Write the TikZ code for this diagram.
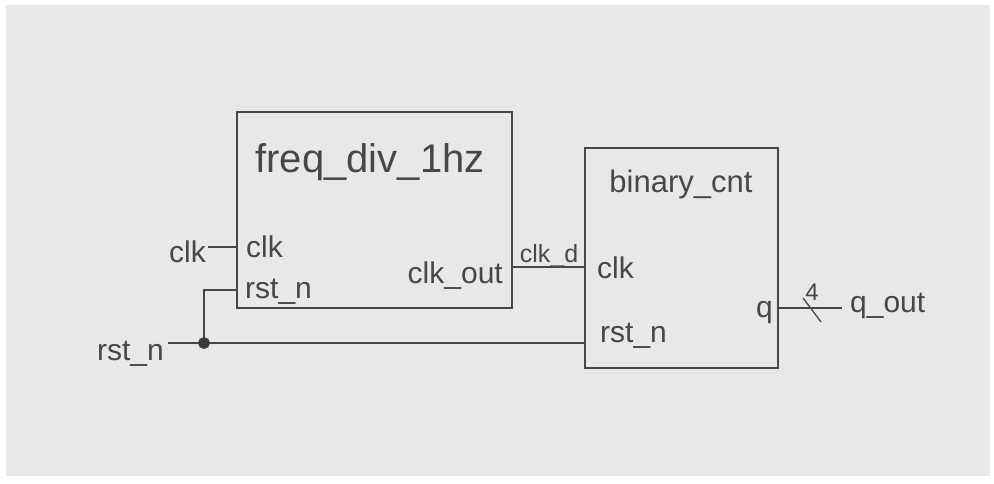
\documentclass[tikz,border=0pt]{standalone}
\usepackage{fontspec}
\setmainfont{Liberation Sans}
\definecolor{ink}{HTML}{474747}
\definecolor{paper}{HTML}{E8E8E6}
\begin{document}
\begin{tikzpicture}[x=1pt,y=-1pt,
  wire/.style={draw=ink, line width=1.6pt},
  box/.style={draw=ink, line width=2pt, inner sep=0pt, fill=none},
  lbl/.style={text=ink, inner sep=0pt, font=\fontsize{30}{32}\selectfont},
  ttl/.style={text=ink, inner sep=0pt, font=\fontsize{40}{42}\selectfont},
  dotj/.style={circle, draw=ink, fill=ink!80!black, line width=1pt, inner sep=0pt, minimum size=11pt}]
% background
\fill[white] (0,0) rectangle (994,484);
\fill[paper] (6,5) rectangle (990,476);
\useasboundingbox (0,0) rectangle (994,484);
% boxes
\node[box, minimum width=275pt, minimum height=196pt] (b1) at (374.5,210) {};
\node[box, minimum width=193pt, minimum height=220pt] (b2) at (681.5,258) {};
% titles
\node[ttl, anchor=base] (t1) at (370,173) {freq\_div\_1hz};
\node[ttl, anchor=base, font=\fontsize{31}{33}\selectfont] (t2) at (681,193) {binary\_cnt};
% box1 ports
\node[lbl, anchor=base west] (p1clk) at (246,257) {clk};
\node[lbl, anchor=base west] (p1rst) at (245,298) {rst\_n};
\node[lbl, anchor=base east] (p1out) at (503,283) {clk\_out};
% box2 ports
\node[lbl, anchor=base west] (p2clk) at (597,278) {clk};
\node[lbl, anchor=base west] (p2rst) at (600,342) {rst\_n};
\node[lbl, anchor=base east] (p2q) at (773,317) {q};
% outer labels
\node[lbl, anchor=base east] (inclk) at (206,262) {clk};
\node[lbl, anchor=base east] (inrst) at (164,360) {rst\_n};
\node[lbl, anchor=base, font=\fontsize{25}{27}\selectfont] (wclkd) at (549,262) {clk\_d};
\node[lbl, anchor=base west] (outq) at (850,312) {q\_out};
\node[lbl, anchor=base, font=\fontsize{24}{26}\selectfont] (bw) at (812,300) {4};
% coordinates
\coordinate (c1) at (208,247);
\coordinate (r0) at (168,343);
\coordinate (j) at (204,343);
\coordinate (jr) at (204,290);
\coordinate (cd) at (512,267);
\coordinate (qo) at (842,308);
\coordinate (s1) at (803,298);
\coordinate (s2) at (821,322);
% wires
\draw[wire] (c1) -- (c1 -| b1.west);
\draw[wire] (r0) -- (j) -- (j -| b2.west);
\draw[wire] (j) -- (jr) -- (jr -| b1.west);
\draw[wire] (cd) -- (cd -| b2.west);
\draw[wire] (qo -| b2.east) -- (qo);
\draw[wire, line width=1.3pt] (s1) -- (s2);
\node[dotj] (jd) at (j) {};
\end{tikzpicture}
\end{document}
